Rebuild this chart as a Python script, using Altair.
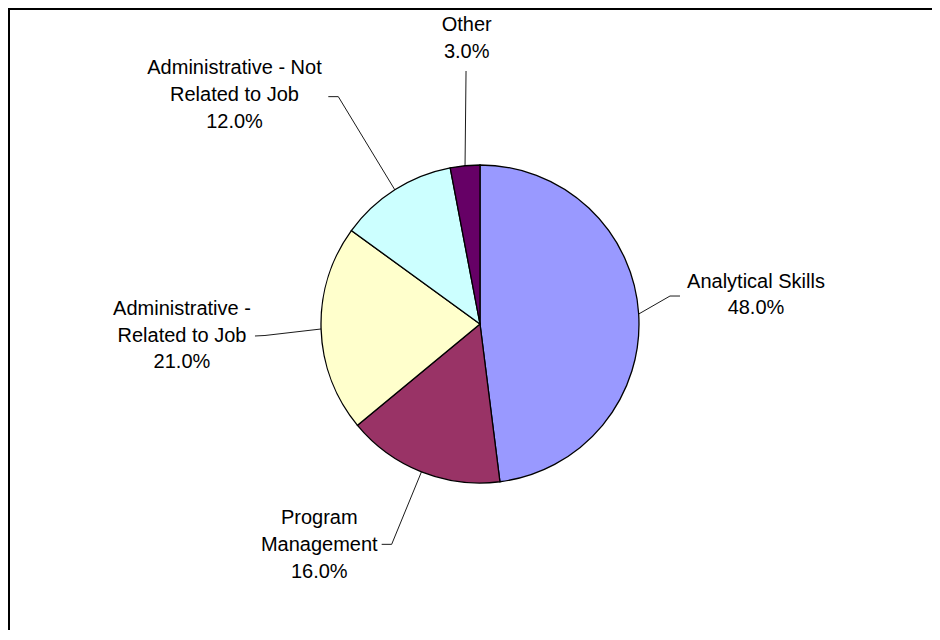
import math
import altair as alt
import pandas as pd

# ---- data ----
CATEGORIES = ["Analytical Skills", "Program Management", "Administrative - Related to Job",
              "Administrative - Not Related to Job", "Other"]
VALUES = [48.0, 16.0, 21.0, 12.0, 3.0]
COLORS = ["#9999FF", "#993366", "#FFFFCC", "#CCFFFF", "#660066"]
LABEL_LINES = [["Analytical Skills"], ["Program", "Management"], ["Administrative -", "Related to Job"],
               ["Administrative - Not", "Related to Job"], ["Other"]]

# ---- layout (styling) ----
W, H = 924, 622
CX, CY, R = 472, 316, 159
LINE_H = 26.7
FONT = "Arial, Liberation Sans, sans-serif"
# offsets relative to the slice's outer mid-point: label anchor, leader elbow, leader end
LABEL_OFF = [(117.3, -32.3), (-102.2, 46.5), (-139.1, -20.0), (-160.3, -121.5), (1.7, -140.7)]
ELBOW_OFF = [(31.3, -18.0), (-29.8, 72.5), (-56.1, 6.5), (-56.5, -93.1), (1.0, -94.7)]
END_OFF = [(41.3, -18.0), (-39.8, 72.5), (-66.1, 7.0), (-66.5, -93.1), (1.0, -94.7)]

total = sum(VALUES)
pie_df = pd.DataFrame({"category": CATEGORIES, "value": VALUES, "idx": list(range(len(VALUES)))})

text_rows, line_rows = [], []
cum = 0.0
for i, (cat, v) in enumerate(zip(CATEGORIES, VALUES)):
    mid = (cum + v / 2) / total * 2 * math.pi
    cum += v
    ex, ey = CX + R * math.sin(mid), CY - R * math.cos(mid)
    lx, ly = ex + LABEL_OFF[i][0], ey + LABEL_OFF[i][1]
    lines = LABEL_LINES[i] + [f"{v / total * 100:.1f}%"]
    for k, t in enumerate(lines):
        text_rows.append({"category": cat, "line": t, "tx": lx, "ty": ly + k * LINE_H})
    pts = [(ex, ey), (ex + ELBOW_OFF[i][0], ey + ELBOW_OFF[i][1]), (ex + END_OFF[i][0], ey + END_OFF[i][1])]
    for k, (px, py) in enumerate(pts):
        line_rows.append({"category": cat, "k": k, "px": px, "py": py})

text_df = pd.DataFrame(text_rows)
line_df = pd.DataFrame(line_rows)

pie = alt.Chart(pie_df).mark_arc(radius=R, stroke="black", strokeWidth=1.3).encode(
    theta=alt.Theta("value:Q", stack=True),
    color=alt.Color("category:N", scale=alt.Scale(domain=CATEGORIES, range=COLORS), legend=None),
    order=alt.Order("idx:Q"),
    x=alt.value(CX),
    y=alt.value(CY),
)

leaders = alt.Chart(line_df).mark_line(color="black", strokeWidth=0.9).encode(
    x=alt.X("px:Q", scale=None),
    y=alt.Y("py:Q", scale=None),
    detail="category:N",
    order="k:Q",
)

labels = alt.Chart(text_df).mark_text(
    font=FONT, fontSize=20, color="black", align="center", baseline="middle"
).encode(
    x=alt.X("tx:Q", scale=None),
    y=alt.Y("ty:Q", scale=None),
    text="line:N",
)

border_top = alt.Chart(pie_df).mark_rule(color="black", strokeWidth=2).encode(
    x=alt.value(0), x2=alt.value(W), y=alt.value(1)
)
border_left = alt.Chart(pie_df).mark_rule(color="black", strokeWidth=2).encode(
    x=alt.value(1), y=alt.value(0), y2=alt.value(H)
)

chart = alt.layer(border_top, border_left, pie, leaders, labels).properties(
    width=W, height=H, padding=0, autosize="none", background="white"
).configure_view(stroke=None)

chart.save("out.html", embed_options={"renderer": "svg", "actions": False})
